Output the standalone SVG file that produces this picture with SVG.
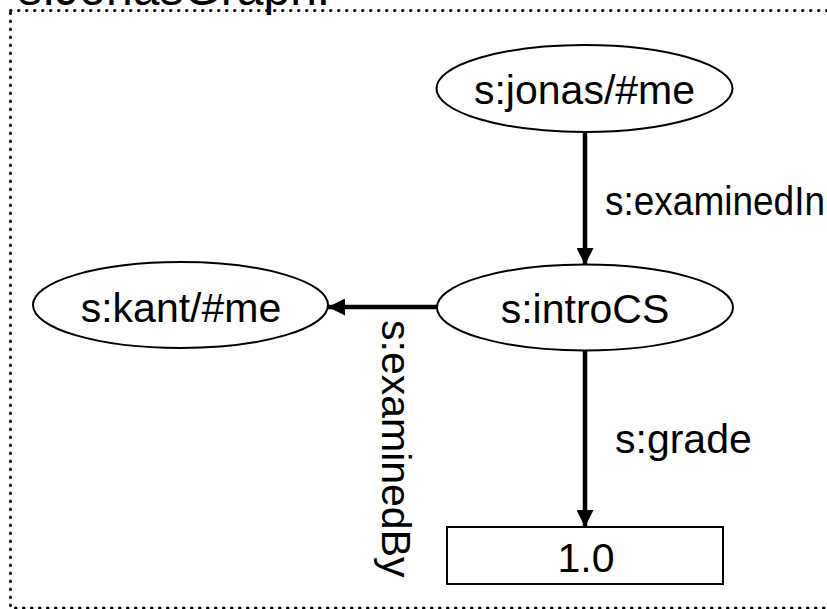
<svg xmlns="http://www.w3.org/2000/svg" width="827" height="609" viewBox="0 0 827 609">
<style>
  .lbl { font-family: "Liberation Sans", Arial, sans-serif; font-size: 41px; fill: #000; }
  .node { fill: #fff; stroke: #000; stroke-width: 2; }
  .edge { stroke: #000; stroke-width: 4.5; fill: none; }
  .frame { fill: none; stroke: #000; stroke-width: 3; stroke-dasharray: 0.5 7.5; stroke-linecap: round; }
</style>
<defs>
  <marker id="arrow" viewBox="0 0 17 17" refX="17" refY="8.5" markerWidth="17" markerHeight="17" markerUnits="userSpaceOnUse" orient="auto">
    <path d="M0,0 L17,8.5 L0,17 z" fill="#000"/>
  </marker>
</defs>
<rect fill="#fff" width="827" height="609"/>
<g id="frame">
  <rect class="frame" x="10.5" y="10.5" width="900" height="597.5"/>
  <text class="lbl" x="18" y="5" style="font-size:48px">s:JonasGraph:</text>
</g>
<g id="connectors">
  <line class="edge" x1="585" y1="132" x2="585" y2="265" marker-end="url(#arrow)"/>
  <line class="edge" x1="585" y1="350" x2="585" y2="527" marker-end="url(#arrow)"/>
  <line class="edge" x1="437" y1="307" x2="328" y2="307" marker-end="url(#arrow)"/>
  <text class="lbl" x="605" y="215" textLength="220" lengthAdjust="spacingAndGlyphs">s:examinedIn</text>
  <text class="lbl" x="615" y="453">s:grade</text>
  <text class="lbl" transform="translate(382,320) rotate(90)">s:examinedBy</text>
</g>
<g id="node-jonas">
  <ellipse class="node" cx="584.5" cy="88.5" rx="148" ry="43.5"/>
  <text class="lbl" x="584.5" y="104" text-anchor="middle">s:jonas/#me</text>
</g>
<g id="node-introCS">
  <ellipse class="node" cx="585" cy="307.5" rx="148" ry="43"/>
  <text class="lbl" x="585" y="323" text-anchor="middle">s:introCS</text>
</g>
<g id="node-kant">
  <ellipse class="node" cx="180.5" cy="305" rx="147.5" ry="43"/>
  <text class="lbl" x="181" y="322" text-anchor="middle">s:kant/#me</text>
</g>
<g id="node-grade">
  <rect class="node" x="447" y="527" width="276" height="57"/>
  <text class="lbl" x="586" y="572" text-anchor="middle">1.0</text>
</g>
</svg>
